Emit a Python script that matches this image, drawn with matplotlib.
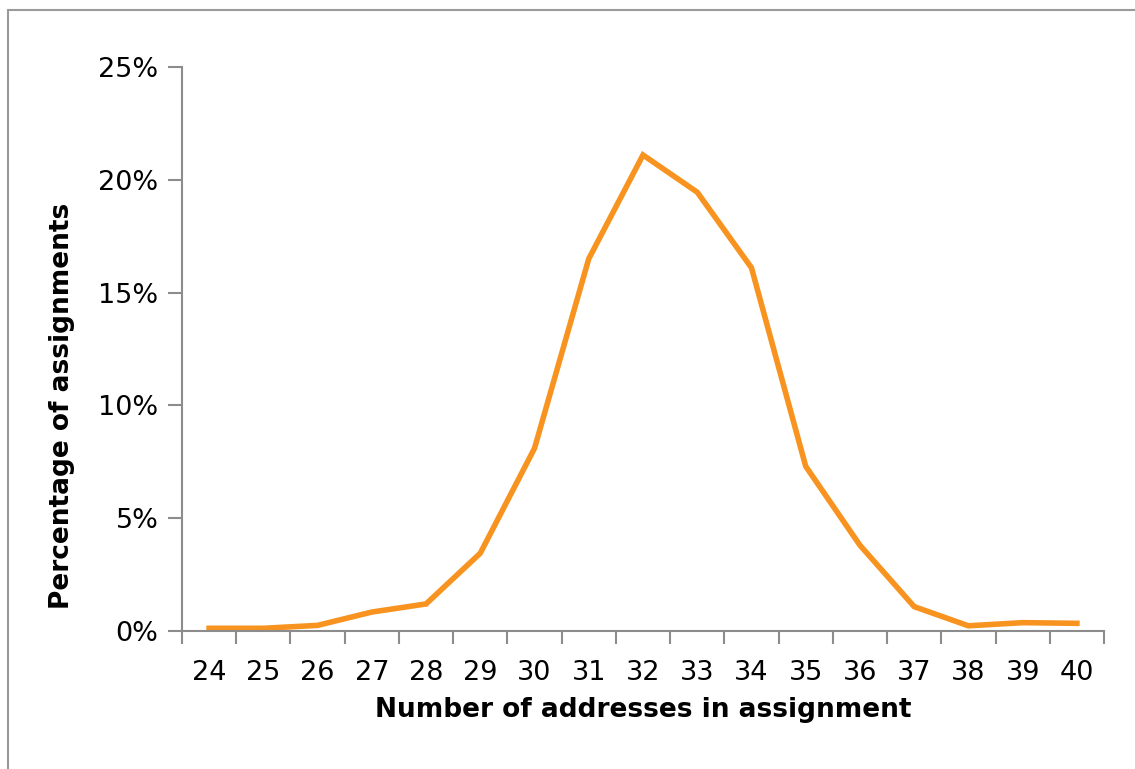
"""Distribution of assignment sizes (number of addresses per assignment)."""

import matplotlib
matplotlib.use("Agg")
import matplotlib.pyplot as plt
from matplotlib.patches import Rectangle
from matplotlib.ticker import FuncFormatter

addresses = [24, 25, 26, 27, 28, 29, 30, 31, 32, 33, 34, 35, 36, 37, 38, 39, 40]
pct_assignments = [0.12, 0.12, 0.25, 0.84, 1.2, 3.45, 8.1, 16.5, 21.1, 19.45,
                   16.1, 7.3, 3.8, 1.08, 0.23, 0.37, 0.34]
y_ticks = [0, 5, 10, 15, 20, 25]

LINE = "#F7931E"
AXIS = "#8C8C8C"

fig = plt.figure(figsize=(11.35, 7.69), dpi=100)
# outer chart border (cropped at right/bottom)
fig.patches.append(Rectangle((8 / 1135, -0.05), 1.2, 1 - 10 / 769 + 0.05,
                             transform=fig.transFigure, fill=False,
                             edgecolor="#9A9A9A", linewidth=1.5))

ax = fig.add_axes([182 / 1135, 1 - 631 / 769, (1104 - 182) / 1135, (631 - 67) / 769])
ax.plot(range(len(addresses)), pct_assignments, color=LINE, linewidth=4,
        solid_joinstyle="miter")

ax.set_xlim(-0.5, len(addresses) - 0.5)
ax.set_ylim(0, 25)
ax.set_yticks(y_ticks)
ax.yaxis.set_major_formatter(FuncFormatter(lambda v, _: f"{v:.0f}%"))
ax.set_xticks([i - 0.5 for i in range(len(addresses) + 1)])
ax.set_xticklabels([])
ax.set_xticks(range(len(addresses)), minor=True)
ax.set_xticklabels([str(a) for a in addresses], minor=True)

for side in ("top", "right"):
    ax.spines[side].set_visible(False)
for side in ("left", "bottom"):
    ax.spines[side].set_color(AXIS)
    ax.spines[side].set_linewidth(1.5)

ax.tick_params(axis="y", which="major", length=10, width=1.5, color=AXIS,
               labelsize=19.5, pad=7)
ax.tick_params(axis="x", which="major", length=9, width=1.5, color=AXIS)
ax.tick_params(axis="x", which="minor", length=0, labelsize=19.5, pad=21)

ax.set_xlabel("Number of addresses in assignment", fontsize=19, fontweight="bold",
              labelpad=8)
ax.set_ylabel("Percentage of assignments", fontsize=19, fontweight="bold")
ax.yaxis.set_label_coords(-0.116, 0.40)

fig.savefig("out.png", dpi=100)
